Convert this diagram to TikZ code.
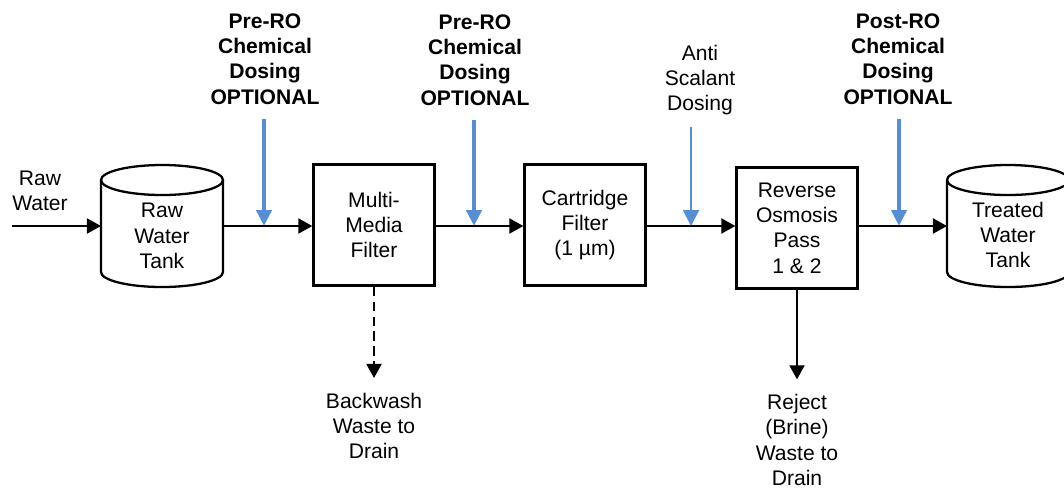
\documentclass[tikz,border=0pt]{standalone}
\usepackage{fontspec}
\setmainfont{Liberation Sans}
\usepackage{xcolor}
\usetikzlibrary{arrows.meta}
\definecolor{doseblue}{RGB}{85,142,213}

\begin{document}
\begin{tikzpicture}[x=0.02cm,y=-0.02cm,
  >={Triangle[length=8pt,width=8.5pt]},
  every node/.style={font=\fontsize{12}{14.4}\selectfont, align=center},
  unit/.style={draw, rectangle, line width=1.3pt, minimum width=2.42cm, minimum height=2.42cm},
  tanktext/.style={minimum width=2.44cm, inner sep=0pt, outer sep=0pt},
  tankline/.style={line width=1.3pt},
  flow/.style={->, line width=1.3pt},
  drain/.style={flow, shorten >=5pt},
  dose/.style={->, doseblue, line width=2.8pt, >={Triangle[length=9pt,width=8.5pt]}},
  thindose/.style={->, doseblue, line width=1.1pt, >={Triangle[length=9pt,width=9pt]}}]
\useasboundingbox (0,0) rectangle (1064,488);

% Tanks
\foreach \cx in {162,1008} {
  \draw[tankline] (\cx-61,180) -- (\cx-61,272)
    arc[start angle=180, end angle=360, x radius=1.22cm, y radius=0.3cm] -- (\cx+61,180);
  \draw[tankline] (\cx,180) ellipse[x radius=1.22cm, y radius=0.3cm];
}

% Nodes
\node[tanktext] (rawtank) at (162,236) {Raw\\Water\\Tank};
\node[unit] (mmf) at (374,225) {Multi-\\Media\\Filter};
\node[unit] (cart) at (585,225) {Cartridge\\Filter\\(1 µm)};
\node[unit] (ro) at (797,228) {Reverse\\Osmosis\\Pass\\1 \& 2};
\node[tanktext] (treated) at (1008,235) {Treated\\Water\\Tank};

% Labels
\node (rawin) at (40,191) {Raw\\Water};
\node[font=\fontsize{12}{14.4}\selectfont\bfseries] (pre1) at (265,59) {Pre-RO\\Chemical\\Dosing\\OPTIONAL};
\node[font=\fontsize{12}{14.4}\selectfont\bfseries] (pre2) at (475,60) {Pre-RO\\Chemical\\Dosing\\OPTIONAL};
\node (anti) at (700,80) {Anti\\Scalant\\Dosing};
\node[font=\fontsize{12}{14.4}\selectfont\bfseries] (post) at (898,59) {Post-RO\\Chemical\\Dosing\\OPTIONAL};
\node (backwash) at (374,426) {Backwash\\Waste to\\Drain};
\node (reject) at (797,440) {Reject\\(Brine)\\Waste to\\Drain};

% Dosing points
\coordinate (start) at (12,226);
\coordinate (d1) at (264,226);
\coordinate (d2) at (474,226);
\coordinate (d3) at (691,226);
\coordinate (d4) at (899,226);

% Arrows
\draw[flow] (start) -- (rawtank.west |- start);
\draw[flow] (rawtank.east |- start) -- (mmf.west |- start);
\draw[flow] (mmf.east |- start) -- (cart.west |- start);
\draw[flow] (cart.east |- start) -- (ro.west |- start);
\draw[flow] (ro.east |- start) -- (treated.west |- start);
\draw[drain, dash pattern=on 5.5pt off 3pt] (mmf) -- (backwash);
\draw[drain] (ro) -- (reject);
\draw[dose] (pre1.south -| d1) ++(0,8) -- (d1);
\draw[dose] (pre2.south -| d2) ++(0,8) -- (d2);
\draw[thindose] (anti.south -| d3) ++(0,6) -- (d3);
\draw[dose] (post.south -| d4) ++(0,8) -- (d4);
\end{tikzpicture}
\end{document}
